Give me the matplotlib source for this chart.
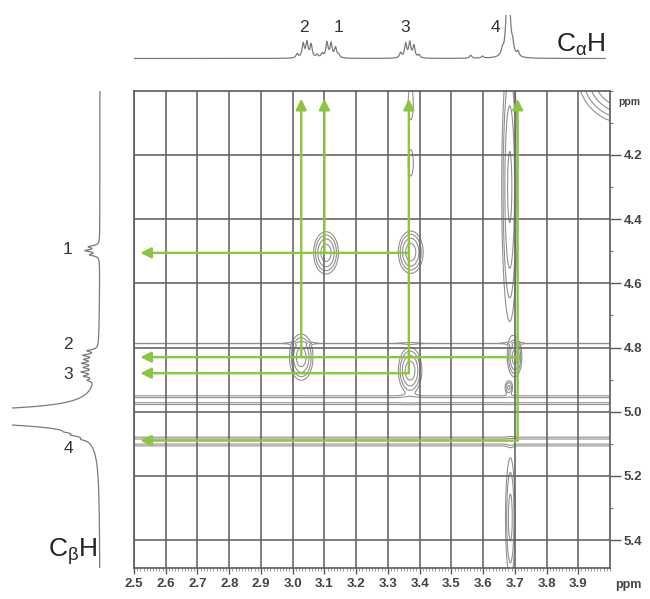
import numpy as np
import matplotlib
matplotlib.use("Agg")
import matplotlib.pyplot as plt
from matplotlib.ticker import MultipleLocator

plt.rcParams['font.family'] = ['Liberation Sans', 'DejaVu Sans']
plt.rcParams['mathtext.fontset'] = 'custom'
plt.rcParams['mathtext.rm'] = 'Liberation Sans'
plt.rcParams['mathtext.it'] = 'Liberation Sans'

# ---------------- axes / ticks ----------------
x_ticks = [2.5, 2.6, 2.7, 2.8, 2.9, 3.0, 3.1, 3.2, 3.3, 3.4, 3.5, 3.6, 3.7, 3.8, 3.9]
y_ticks = [4.2, 4.4, 4.6, 4.8, 5.0, 5.2, 5.4]
x_limits = (2.5, 4.0)
y_limits = (4.0, 5.487)

# ---------------- top 1D projection (C-alpha H) ----------------
top_ppm = [3.014, 3.033, 3.045, 3.058, 3.077,
           3.093, 3.108, 3.121, 3.135, 3.145,
           3.340, 3.356, 3.369, 3.382, 3.398,
           3.561, 3.598,
           3.661, 3.679, 3.693, 3.710]
top_height = [4, 14, 15, 13, 3,
              4, 15, 14, 10, 3,
              5, 14, 15, 12, 3,
              3, 2,
              5, 160, 10, 5]
top_hwhm = 0.0041
top_labels = ['2', '1', '3', '4']
top_label_ppm = [3.037, 3.144, 3.353, 3.640]

# ---------------- left 1D projection (C-beta H) ----------------
side_ppm = [4.486, 4.498, 4.511,
            4.810, 4.824, 4.837, 4.849, 4.862, 4.876, 4.889, 4.902,
            5.015,
            5.063, 5.073, 5.086]
side_height = [10, 13, 9,
               10, 13, 11, 13, 11, 13, 10, 6,
               800,
               6, 8, 5]
side_hwhm = [0.0041, 0.0041, 0.0041,
             0.0041, 0.0041, 0.0041, 0.0041, 0.0041, 0.0041, 0.0041, 0.0041,
             0.0093,
             0.0041, 0.0041, 0.0041]
side_labels = ['1', '2', '3', '4']
side_label_ppm = [4.495, 4.79, 4.885, 5.115]

# ---------------- 2D COSY peaks ----------------
peak_x = [3.105, 3.372, 3.027, 3.370, 3.700, 3.681, 4.05, 3.372, 3.372, 3.684, 3.686]
peak_y = [4.505, 4.503, 4.830, 4.872, 4.830, 4.925, 3.95, 4.04, 4.225, 4.30, 5.33]
peak_sx = [0.019, 0.019, 0.018, 0.018, 0.011, 0.007, 0.06, 0.008, 0.008, 0.013, 0.009]
peak_sy = [0.032, 0.032, 0.035, 0.035, 0.030, 0.012, 0.06, 0.05, 0.04, 0.215, 0.11]
peak_amp = [1.0, 1.0, 1.0, 1.0, 0.9, 0.45, 2.9, 0.2, 0.2, 0.8, 0.5]

# t1-noise ridges running across the full F2 width
ridge_y = [4.964, 5.093, 4.787]
ridge_sy = [0.010, 0.010, 0.0025]
ridge_amp = [0.30, 0.30, 0.13]

contour_levels = [0.12, 0.22, 0.4, 0.7]

# correlation arrows
vert_x = [3.027, 3.100, 3.366, 3.709]
vert_from_y = [4.830, 4.505, 4.880, 5.090]
arrow_top = 4.025
horiz_y = [4.505, 4.830, 4.880, 5.090]
horiz_from_x = [3.366, 3.709, 3.366, 3.709]
arrow_left = 2.52

GREEN = '#8cc63f'
GRID = '#676767'
TXT = '#444444'

W, H = 650, 599
fig = plt.figure(figsize=(6.5, 5.99), dpi=100)


def fx(px):
    return px / W


def fy(py):
    return 1 - py / H


# main axes
L, R, T, B = 134, 610, 90.8, 568
ax = fig.add_axes([fx(L), fy(B), (R - L) / W, (B - T) / H])
xs = np.linspace(x_limits[0], x_limits[1], 700)
ys = np.linspace(y_limits[0] - 0.05, y_limits[1], 700)
X, Y = np.meshgrid(xs, ys)
Z = np.zeros_like(X)
for x0, y0, sx, sy, a in zip(peak_x, peak_y, peak_sx, peak_sy, peak_amp):
    Z += a * np.exp(-((X - x0) ** 2) / (2 * sx ** 2) - ((Y - y0) ** 2) / (2 * sy ** 2))
for y0, sy, a in zip(ridge_y, ridge_sy, ridge_amp):
    Z += a * np.exp(-((Y - y0) ** 2) / (2 * sy ** 2))
ax.contour(X, Y, Z, levels=contour_levels, colors='#909090', linewidths=0.8, zorder=1)

ax.set_xlim(*x_limits)
ax.set_ylim(y_limits[1], y_limits[0])
ax.set_xticks(x_ticks)
ax.set_xticklabels([f'{v:.1f}' for v in x_ticks])
ax.set_yticks(y_ticks)
ax.set_yticklabels([f'{v:.1f}' for v in y_ticks])
ax.xaxis.set_minor_locator(MultipleLocator(0.01))
ax.yaxis.set_minor_locator(MultipleLocator(0.1))
ax.yaxis.tick_right()
ax.grid(True, which='major', color=GRID, lw=1.2, zorder=1.5)
for s in ax.spines.values():
    s.set_color('#5a5a5a')
    s.set_linewidth(1.2)
ax.tick_params(axis='x', which='major', direction='out', length=4, width=1,
               color='#5a5a5a', labelcolor=TXT, labelsize=9.5, pad=3)
ax.tick_params(axis='x', which='minor', direction='out', length=2, width=0.5, color='#777777')
ax.tick_params(axis='y', which='major', direction='out', length=8, width=1,
               color='#5a5a5a', labelcolor=TXT, labelsize=9.5, pad=2)
ax.tick_params(axis='y', which='minor', direction='out', length=2, width=0.8, color='#777777')
for lab in ax.get_xticklabels() + ax.get_yticklabels():
    lab.set_fontweight('bold')

# arrows
for x0, y0 in zip(vert_x, vert_from_y):
    ax.annotate('', xy=(x0, arrow_top), xytext=(x0, y0),
                arrowprops=dict(arrowstyle='-|>', color=GREEN, lw=1.7,
                                mutation_scale=16, shrinkA=0, shrinkB=0), zorder=5)
for y0, x0 in zip(horiz_y, horiz_from_x):
    ax.annotate('', xy=(arrow_left, y0), xytext=(x0, y0),
                arrowprops=dict(arrowstyle='-|>', color=GREEN, lw=1.7,
                                mutation_scale=16, shrinkA=0, shrinkB=0), zorder=5)

# top projection
axt = fig.add_axes([fx(L), fy(66), (R - L) / W, (66 - 15) / H])
xt = np.linspace(2.495, 3.985, 3000)
spec_t = np.zeros_like(xt)
for p, h in zip(top_ppm, top_height):
    spec_t += h * top_hwhm ** 2 / ((xt - p) ** 2 + top_hwhm ** 2)
axt.plot(xt, spec_t, color='#7a7a7a', lw=0.9)
axt.set_xlim(*x_limits)
axt.set_ylim(-7.5, 43.5)
axt.axis('off')

# left projection
axl = fig.add_axes([fx(12), fy(B), (106 - 12) / W, (B - T) / H])
yl = np.linspace(y_limits[0], y_limits[1], 4000)
spec_l = np.zeros_like(yl)
for p, h, g in zip(side_ppm, side_height, side_hwhm):
    spec_l += h * g ** 2 / ((yl - p) ** 2 + g ** 2)
axl.plot(spec_l, yl, color='#7a7a7a', lw=0.9)
axl.set_xlim(88, -6)
axl.set_ylim(y_limits[1], y_limits[0])
axl.axis('off')

# labels on projections
for lab, p in zip(top_labels, top_label_ppm):
    axt.text(p, 24, lab, ha='center', va='bottom', fontsize=12.5, color='#333333')
for lab, p in zip(side_labels, side_label_ppm):
    axl.text(32, p, lab, ha='center', va='center', fontsize=12.5, color='#333333')

fig.text(fx(556), fy(52), r'C$_{\alpha}$H', ha='left', va='baseline', fontsize=19, color='#222222')
fig.text(fx(48), fy(557), r'C$_{\beta}$H', ha='left', va='baseline', fontsize=19, color='#222222')
fig.text(fx(629), fy(102), 'ppm', ha='center', va='center', fontsize=7.5,
         fontweight='bold', color=TXT)
fig.text(fx(628), fy(585), 'ppm', ha='center', va='center', fontsize=9,
         fontweight='bold', color=TXT)

fig.savefig('out.png', dpi=100)
